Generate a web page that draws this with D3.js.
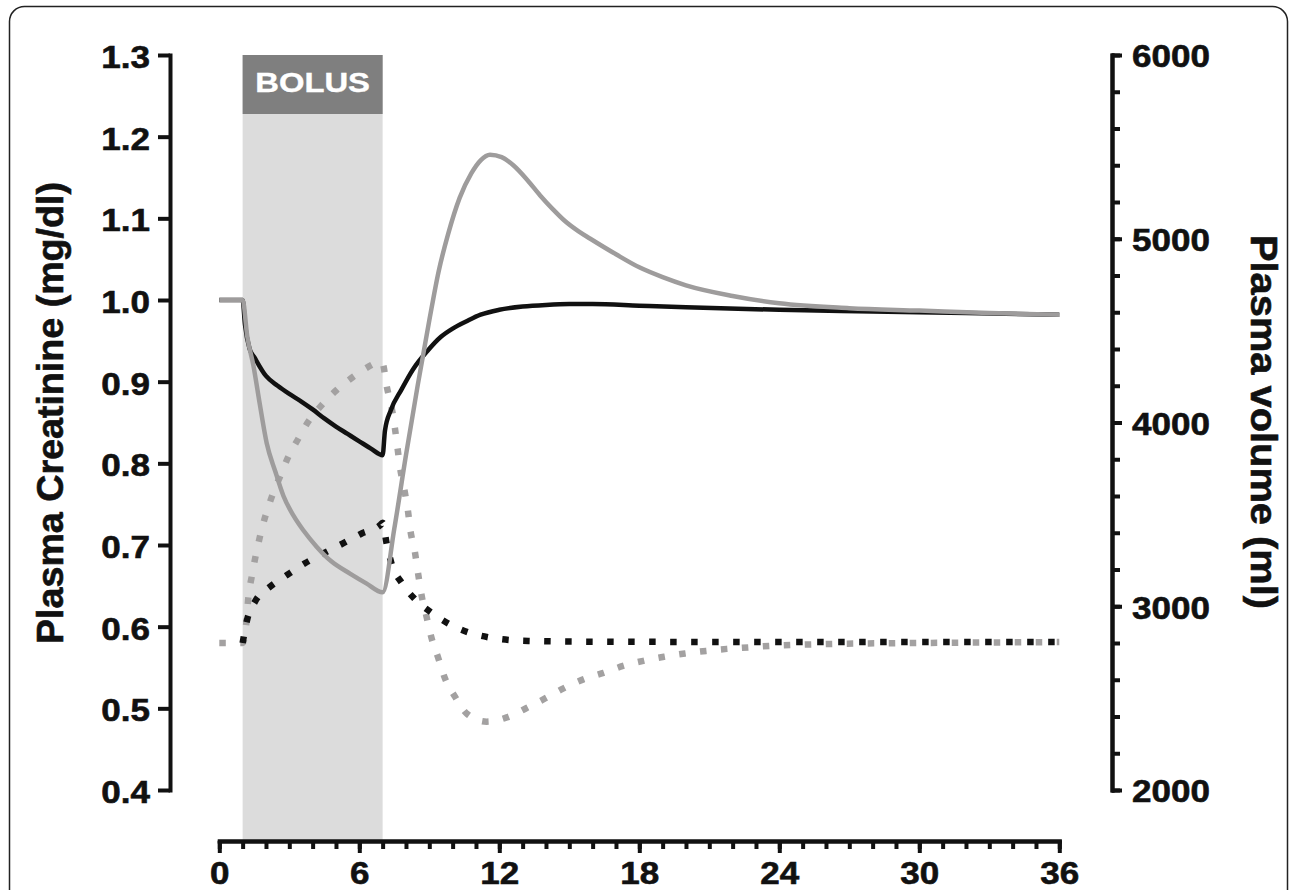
<!DOCTYPE html>
<html>
<head>
<meta charset="utf-8">
<script src="https://cdn.jsdelivr.net/npm/d3@7"></script>
<style>
body { margin: 0; background: #fff; }
svg text { font-family: "Liberation Sans", Arial, sans-serif; font-weight: bold; fill: #111; }
</style>
</head>
<body>
<svg id="chart" width="1290" height="890"></svg>
<script>
// bolus window (hours)
const bolus = [1, 7];

// plasma creatinine, normal (black solid)
const tCrA = [0, 1, 1.1, 1.3, 1.5, 2, 2.5, 3, 3.5, 4, 4.5, 5, 5.5, 6, 6.5, 7,
    7.1, 7.35, 7.8, 8.3, 8.9, 9.5, 10, 10.6, 11.2, 12, 13, 14, 15, 16, 18, 20, 24, 28, 32, 36];
const crA = [1, 1, 0.97, 0.94, 0.93, 0.907, 0.895, 0.885, 0.876, 0.866, 0.855, 0.845, 0.836, 0.827, 0.818, 0.81,
    0.84, 0.865, 0.89, 0.915, 0.937, 0.955, 0.965, 0.974, 0.982, 0.988, 0.992, 0.994, 0.995, 0.995, 0.993, 0.991, 0.988, 0.986, 0.984, 0.982];

// plasma creatinine, second case (grey solid)
const tCrB = [0, 1, 1.2, 1.46, 1.75, 2.03, 2.4, 2.75, 3.2, 3.6, 4.17, 4.8, 5.6, 6.3, 7,
    7.5, 8, 8.5, 9, 9.4, 9.8, 10.3, 10.8, 11.2, 11.6, 12.1, 12.6, 13.2, 13.75, 14.3, 14.8, 15.4, 15.9,
    17, 18, 19, 20, 22, 24, 27, 30, 33, 36];
const crB = [1, 1, 0.955, 0.92, 0.87, 0.825, 0.79, 0.76, 0.735, 0.718, 0.698, 0.68, 0.665, 0.653, 0.642,
    0.72, 0.81, 0.895, 0.975, 1.035, 1.08, 1.125, 1.155, 1.171, 1.178, 1.175, 1.165, 1.147, 1.128, 1.111, 1.097, 1.084, 1.075,
    1.056, 1.04, 1.028, 1.018, 1.005, 0.996, 0.99, 0.987, 0.984, 0.982];

// plasma volume, normal (black dotted)
const tVolA = [1, 1.2, 1.53, 2.17, 2.9, 3.67, 4.5, 5.3, 6.1, 6.9, 7,
    7.17, 7.4, 7.82, 8.39, 9.1, 9.86, 10.67, 11.53, 12.46, 13.4, 15, 20, 36];
const volA = [2800, 2930, 3025, 3106, 3170, 3234, 3290, 3342, 3396, 3442, 3455,
    3342, 3224, 3127, 3038, 2965, 2903, 2858, 2831, 2816, 2811, 2808, 2806, 2805];

// plasma volume, second case (grey dotted)
const tVolB = [0, 1, 1.17, 1.24, 1.39, 1.74, 2.25, 2.6, 2.96, 3.39, 3.81, 4.39, 5.03, 5.74, 6.53, 6.8, 7,
    7.17, 7.43, 7.6, 7.74, 7.96, 8.1, 8.17, 8.39, 8.53, 8.68, 8.89, 9.1, 9.39, 9.67, 10.1, 10.63, 11.46, 12.32,
    13.15, 13.96, 14.75, 15.6, 16.46, 17.3, 18.17, 19.06, 19.96, 20.86, 21.75, 22.67, 23.57, 26, 30, 36];
const volB = [2800, 2800, 2925, 3042, 3161, 3378, 3596, 3705, 3814, 3913, 4004, 4095, 4177, 4249, 4313, 4330, 4320,
    4200, 4050, 3900, 3760, 3614, 3505, 3430, 3290, 3170, 3052, 2939, 2825, 2716, 2608, 2508, 2413, 2372, 2395,
    2445, 2498, 2553, 2602, 2637, 2675, 2703, 2725, 2743, 2757, 2768, 2776, 2784, 2794, 2800, 2805];

// ticks
const xMajor = [0, 6, 12, 18, 24, 30, 36];
const xMinor = d3.range(0, 37, 1);
const leftTicks = [0.4, 0.5, 0.6, 0.7, 0.8, 0.9, 1.0, 1.1, 1.2, 1.3];
const rightMajor = [2000, 3000, 4000, 5000, 6000];
const rightMinor = d3.range(2000, 6001, 200);

const STRETCH = 1.13;
const svg = d3.select("#chart");

const x = d3.scaleLinear().domain([0, 36]).range([219.3, 1059.3]);
const yL = d3.scaleLinear().domain([0.4, 1.3]).range([790, 55]);
const yR = d3.scaleLinear().domain([2000, 6000]).range([790, 55]);

// rounded frame around the figure
svg.append("rect")
    .attr("x", 9.5).attr("y", 6.5)
    .attr("width", 1278).attr("height", 930)
    .attr("rx", 15)
    .attr("fill", "none")
    .attr("stroke", "#222")
    .attr("stroke-width", 1.5);

// bolus band + header
svg.append("rect")
    .attr("x", x(bolus[0])).attr("y", yL(1.3))
    .attr("width", x(bolus[1]) - x(bolus[0]))
    .attr("height", 841 - yL(1.3))
    .attr("fill", "#dcdcdc");
svg.append("rect")
    .attr("x", x(bolus[0])).attr("y", yL(1.3))
    .attr("width", x(bolus[1]) - x(bolus[0]))
    .attr("height", 59)
    .attr("fill", "#7f7f7f");
svg.append("text")
    .attr("transform", "translate(" + ((x(bolus[0]) + x(bolus[1])) / 2) + ",92) scale(1.15,1)")
    .attr("text-anchor", "middle")
    .style("font-size", "28.5px")
    .style("fill", "#fff")
    .style("stroke", "#fff")
    .style("stroke-width", 0.4)
    .text("BOLUS");

// curves
function drawLine(t, v, yScale, color, width, dash) {
    let line = d3.line()
        .x(d => x(d[0]))
        .y(d => yScale(d[1]))
        .curve(d3.curveMonotoneX);
    let p = svg.append("path")
        .datum(d3.zip(t, v))
        .attr("d", line)
        .attr("fill", "none")
        .attr("stroke", color)
        .attr("stroke-width", width);
    if (dash) {
        p.attr("stroke-dasharray", dash);
    }
}
drawLine(tVolB, volB, yR, "#a3a1a1", 6.5, "6.5,14.5");
drawLine(tVolA, volA, yR, "#111", 6.5, "6.5,14.5");
drawLine(tCrA, crA, yL, "#111", 4.5);
drawLine(tCrB, crB, yL, "#9e9c9c", 4.5);

// axes
function styleAxis(g) {
    g.select(".domain").attr("stroke", "#111").attr("stroke-width", 4).attr("stroke-linecap", "square");
    g.selectAll(".tick line").attr("stroke", "#111").attr("stroke-width", 4);
    g.selectAll(".tick text")
        .style("font-size", "31px")
        .style("stroke", "#111")
        .style("stroke-width", 0.6)
        .attr("fill", "#111");
}

// left axis
let gL = svg.append("g")
    .attr("transform", "translate(170,0)")
    .call(d3.axisLeft(yL).tickValues(leftTicks).tickSize(12).tickSizeOuter(0).tickFormat(d3.format(".1f")));
styleAxis(gL);
gL.selectAll(".tick text")
    .attr("x", -20 / STRETCH)
    .attr("dy", "0.4em")
    .attr("transform", "scale(" + STRETCH + ",1)");

// right axis (minor, then major with labels)
let gRm = svg.append("g")
    .attr("transform", "translate(1112,0)")
    .call(d3.axisRight(yR).tickValues(rightMinor).tickSize(8).tickSizeOuter(0).tickFormat(""));
styleAxis(gRm);
let gR = svg.append("g")
    .attr("transform", "translate(1112,0)")
    .call(d3.axisRight(yR).tickValues(rightMajor).tickSize(10).tickSizeOuter(0).tickFormat(d3.format("d")));
styleAxis(gR);
gR.selectAll(".tick text")
    .attr("x", 20 / STRETCH)
    .attr("dy", "0.38em")
    .attr("transform", "scale(" + STRETCH + ",1)");

// bottom axis
let gXm = svg.append("g")
    .attr("transform", "translate(0,841)")
    .call(d3.axisBottom(x).tickValues(xMinor).tickSize(8).tickSizeOuter(0).tickFormat(""));
styleAxis(gXm);
let gX = svg.append("g")
    .attr("transform", "translate(0,841)")
    .call(d3.axisBottom(x).tickValues(xMajor).tickSize(12).tickSizeOuter(0).tickPadding(9).tickFormat(d3.format("d")));
styleAxis(gX);
gX.selectAll(".tick text")
    .attr("transform", "scale(" + STRETCH + ",1)");

// axis titles
svg.append("text")
    .attr("transform", "translate(63,413) rotate(-90)")
    .attr("text-anchor", "middle")
    .attr("textLength", 462)
    .attr("lengthAdjust", "spacingAndGlyphs")
    .style("font-size", "36px")
    .style("stroke", "#111")
    .style("stroke-width", 0.6)
    .text("Plasma Creatinine (mg/dl)");
svg.append("text")
    .attr("transform", "translate(1251,422) rotate(90)")
    .attr("text-anchor", "middle")
    .attr("textLength", 374)
    .attr("lengthAdjust", "spacingAndGlyphs")
    .style("font-size", "36px")
    .style("stroke", "#111")
    .style("stroke-width", 0.6)
    .text("Plasma volume (ml)");
</script>
</body>
</html>
